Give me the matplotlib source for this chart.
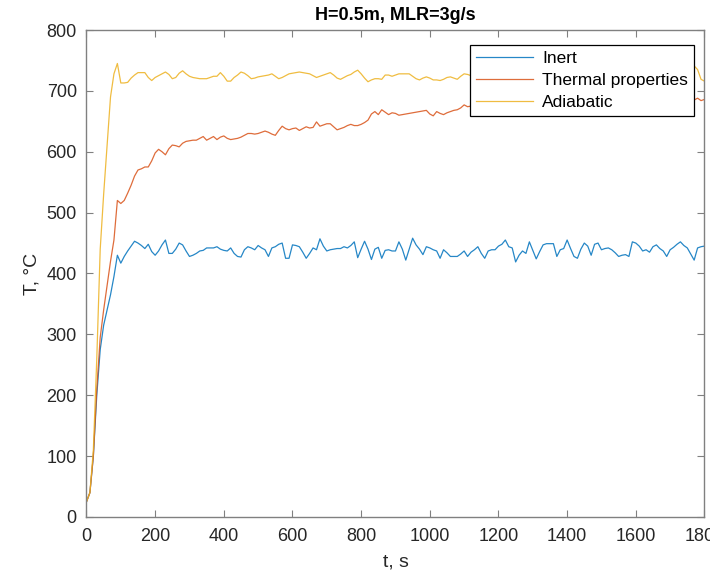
import numpy as np
import matplotlib
matplotlib.use("Agg")
import matplotlib.pyplot as plt

plt.rcParams['font.family'] = ['Liberation Sans', 'DejaVu Sans']

# sampling time, s (one reading every 10 s)
t = np.arange(0, 1810, 10)

# Inert
T_inert = [
    25, 40, 100, 200, 275, 315, 340, 365, 395, 430,
    417, 428, 437, 445, 453, 450, 446, 441, 448, 436,
    430, 437, 447, 455, 433, 433, 440, 450, 447, 437,
    428, 430, 433, 437, 438, 442, 442, 442, 444, 440,
    438, 437, 442, 433, 428, 427, 439, 444, 442, 439,
    446, 442, 439, 428, 442, 444, 448, 450, 425, 425,
    447, 446, 444, 435, 425, 433, 442, 439, 457, 445,
    437, 439, 440, 441, 441, 444, 442, 446, 452, 426,
    440, 453, 440, 423, 440, 443, 425, 438, 439, 437,
    437, 452, 440, 422, 440, 458, 447, 440, 431, 444,
    442, 439, 437, 425, 439, 434, 428, 428, 428, 432,
    437, 428, 435, 439, 444, 433, 425, 437, 439, 439,
    445, 448, 455, 444, 442, 419, 430, 437, 433, 452,
    438, 424, 436, 447, 449, 449, 449, 428, 439, 441,
    455, 441, 428, 425, 440, 450, 445, 430, 448, 450,
    439, 441, 442, 439, 434, 428, 430, 431, 428, 452,
    450, 445, 437, 439, 435, 444, 447, 441, 437, 428,
    439, 443, 448, 452, 446, 442, 432, 422, 442, 444,
    445,
]

# Thermal properties
T_thermal = [
    25, 40, 100, 210, 295, 340, 380, 420, 455, 520,
    515, 520, 532, 545, 560, 570, 572, 575, 575, 585,
    598, 604, 600, 595, 605, 611, 610, 608, 614, 617,
    618, 619, 619, 622, 625, 619, 622, 625, 620, 624,
    626, 622, 620, 621, 622, 624, 627, 630, 630, 629,
    630, 632, 634, 632, 629, 627, 635, 642, 638, 636,
    638, 639, 635, 638, 641, 639, 640, 649, 642, 644,
    646, 646, 641, 636, 638, 640, 643, 645, 643, 643,
    645, 648, 652, 662, 666, 661, 669, 665, 661, 664,
    663, 660, 661, 662, 663, 664, 665, 666, 667, 668,
    662, 659, 666, 663, 661, 664, 666, 668, 669, 672,
    677, 674, 675, 676, 674, 678, 677, 679, 676, 680,
    678, 681, 679, 677, 680, 682, 679, 681, 683, 680,
    678, 681, 684, 682, 680, 683, 685, 682, 680, 683,
    686, 684, 681, 683, 685, 687, 684, 682, 685, 687,
    685, 683, 686, 688, 685, 683, 686, 684, 687, 689,
    686, 684, 687, 685, 683, 686, 688, 685, 683, 686,
    684, 687, 685, 683, 686, 684, 682, 685, 688, 684,
    686,
]

# Adiabatic
T_adiabatic = [
    25, 40, 110, 260, 440, 530, 610, 690, 728, 745,
    713, 713, 714, 721, 726, 730, 730, 730, 722, 717,
    722, 725, 728, 731, 727, 720, 722, 729, 733, 728,
    724, 722, 721, 720, 720, 720, 722, 724, 724, 730,
    724, 716, 716, 722, 726, 731, 729, 725, 720, 721,
    723, 724, 725, 726, 728, 724, 720, 722, 725, 728,
    729, 730, 731, 730, 729, 728, 725, 722, 724, 726,
    728, 730, 726, 721, 719, 722, 725, 727, 731, 734,
    728, 721, 715, 718, 720, 720, 719, 726, 726, 724,
    726, 728, 728, 728, 728, 724, 720, 718, 721, 723,
    721, 718, 718, 717, 719, 722, 723, 721, 719, 724,
    728, 727, 725, 723, 727, 724, 720, 726, 729, 722,
    718, 724, 730, 726, 721, 719, 725, 731, 727, 722,
    720, 726, 729, 724, 718, 723, 728, 725, 720, 724,
    730, 727, 721, 719, 725, 729, 723, 718, 722, 728,
    726, 720, 723, 729, 725, 719, 722, 727, 730, 724,
    720, 725, 728, 722, 719, 724, 729, 726, 721, 723,
    728, 725, 720, 724, 729, 732, 738, 741, 735, 719,
    716,
]

labels = ['Inert', 'Thermal properties', 'Adiabatic']
colors = ['#0072BD', '#D95319', '#EDB120']

fig = plt.figure(figsize=(7.1, 5.77), dpi=100)
ax = fig.add_axes([0.1218, 0.104, 0.8704, 0.844])

for y, lab, c in zip([T_inert, T_thermal, T_adiabatic], labels, colors):
    ax.plot(t, y, color=c, linewidth=0.9, alpha=0.85, label=lab)

ax.set_xlim(0, 1800)
ax.set_ylim(0, 800)
ax.set_xticks(np.arange(0, 1801, 200))
ax.set_yticks(np.arange(0, 801, 100))

grey = '#262626'
for s in ax.spines.values():
    s.set_color('#808080')
    s.set_linewidth(1.0)
ax.tick_params(direction='in', top=True, right=True, length=5, width=0.8,
               color='#808080', labelsize=13, labelcolor=grey)
ax.tick_params(axis='x', pad=8)
ax.tick_params(axis='y', pad=7)

ax.set_title('H=0.5m, MLR=3g/s', fontsize=13, fontweight='bold', color='black', pad=7)
ax.set_xlabel('t, s', fontsize=14, color=grey, labelpad=6)
ax.set_ylabel('T, °C', fontsize=14, color=grey, labelpad=4)

leg = ax.legend(loc='upper right', bbox_to_anchor=(0.983, 0.970), borderaxespad=0,
                fancybox=False, framealpha=1, edgecolor='black', fontsize=12.5,
                handlelength=3.3, handletextpad=0.5, labelspacing=0.4,
                borderpad=0.35)
leg.get_frame().set_linewidth(0.9)
for line in leg.get_lines():
    line.set_linewidth(0.9)

fig.savefig('out.png', dpi=100)
